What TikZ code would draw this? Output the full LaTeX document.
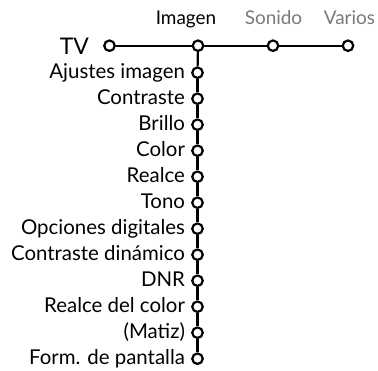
\documentclass[tikz,border=0pt]{standalone}
\usepackage{fontspec}
\setmainfont{Lato}
\usetikzlibrary{backgrounds}
\definecolor{greytext}{HTML}{7A7A7A}
\begin{document}
\begin{tikzpicture}[x=1bp,y=-1bp,
  dot/.style={circle,draw=black,fill=white,line width=2.2bp,minimum size=10.5bp,inner sep=0pt},
  conn/.style={line width=2.2bp},
  item/.style={anchor=base east,font=\fontsize{20.5}{20.5}\selectfont,inner sep=0pt},
  top/.style={anchor=base,font=\fontsize{19}{19}\selectfont,inner sep=0pt}]
\useasboundingbox (0,0) rectangle (378,371);
% top row
\node[dot] (tv) at (109.5,45.7) {};
\node[dot] (im) at (198,45.7) {};
\node[dot] (so) at (273,45.7) {};
\node[dot] (va) at (348,45.7) {};
% vertical items
\foreach \i/\t in {0/Ajustes imagen,1/Contraste,2/Brillo,3/Color,4/Realce,5/Tono,6/Opciones digitales,7/Contraste dinámico,8/DNR,9/Realce del color,10/(Matiz),11/Form. de pantalla}{
  \node[dot] (s\i) at (197.5,72.7+26.0*\i) {};
  \node[item] (l\i) at ([xshift=-6bp,yshift=-6bp]s\i.west) {\t};
}
% connectors
\begin{scope}[on background layer]
\draw[conn] (tv) -- (im) -- (so) -- (va);
\draw[conn] (im) -- (s0);
\foreach \i [evaluate=\i as \j using int(\i+1)] in {0,...,10}{
  \draw[conn] (s\i) -- (s\j);
}
\end{scope}
% labels
\node[anchor=base east,font=\fontsize{23}{23}\selectfont,inner sep=0pt] (tvl) at (89,54) {TV};
\node[top] (iml) at (186,24.5) {Imagen};
\node[top,text=greytext] (sol) at (273.5,24.5) {Sonido};
\node[top,text=greytext] (val) at (349.5,24.5) {Varios};
\end{tikzpicture}
\end{document}
